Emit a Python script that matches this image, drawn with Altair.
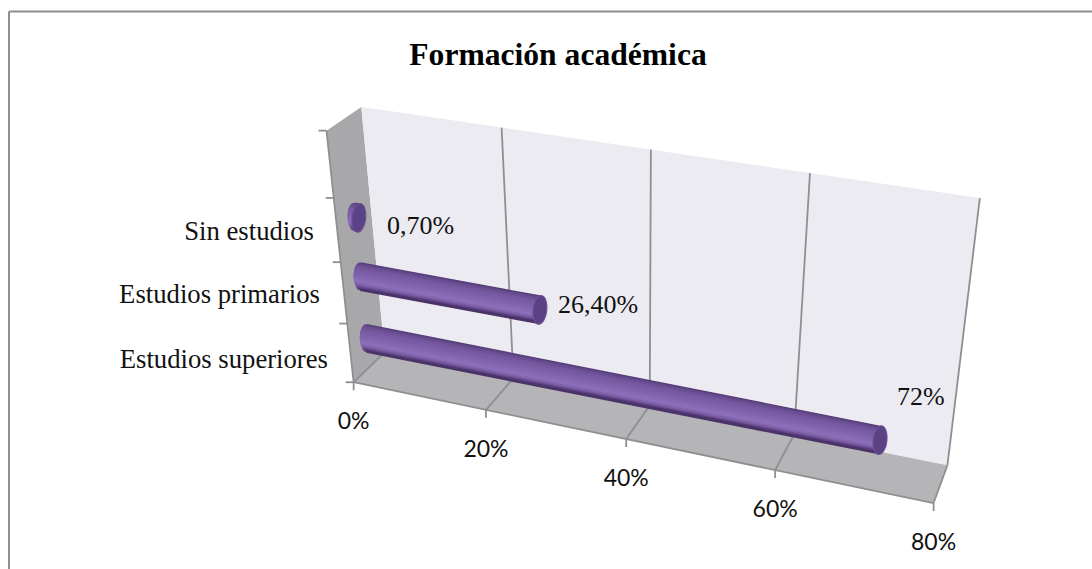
import altair as alt
import numpy as np
import pandas as pd

# Chart content
TITLE = "Formación académica"
categories = ["Estudios superiores", "Estudios primarios", "Sin estudios"]
shares = [72.0, 26.4, 0.7]
share_labels = ["72%", "26,40%", "0,70%"]
axis_ticks = [0, 20, 40, 60, 80]
axis_labels = ["0%", "20%", "40%", "60%", "80%"]

W, H = 1092, 569
SERIF = "Liberation Serif"
SANS = "Lato"

# Camera calibration: (value, depth, height) -> screen position of the box's edges
calibration = [
    (0, 0, 0, 353, 381), (20, 0, 0, 487, 408), (40, 0, 0, 627, 438), (60, 0, 0, 775, 472), (80, 0, 0, 934, 503),
    (0, 1, 0, 386, 353), (20, 1, 0, 511, 378), (40, 1, 0, 650, 408), (60, 1, 0, 793, 437), (80, 1, 0, 948, 462),
    (0, 1, 1, 362, 106), (20, 1, 1, 502, 127), (40, 1, 1, 652, 149), (60, 1, 1, 810, 172), (80, 1, 1, 979, 199),
    (0, 0, 1, 325, 133),
]


def fit_camera(rows):
    """Least-squares 3x4 projective camera."""
    A, b = [], []
    for v, d, h, u, w in rows:
        A.append([v, d, h, 1, 0, 0, 0, 0, -u * v, -u * d, -u * h])
        b.append(u)
        A.append([0, 0, 0, 0, v, d, h, 1, -w * v, -w * d, -w * h])
        b.append(w)
    sol = np.linalg.lstsq(np.array(A, float), np.array(b, float), rcond=None)[0]
    return np.append(sol, 1.0).reshape(3, 4)


CAM = fit_camera(calibration)


def project(v, d, h):
    p = CAM @ np.array([v, d, h, 1.0])
    return float(p[0] / p[2]), float(p[1] / p[2])


X = alt.X("x:Q", scale=alt.Scale(domain=[0, W], nice=False, zero=False), axis=None)
Y = alt.Y("y:Q", scale=alt.Scale(domain=[H, 0], nice=False, zero=False), axis=None)


def polygon(points, color):
    """Fill a convex polygon as an area between its upper and lower chains."""
    pts = np.array(points)
    xs = np.unique(pts[:, 0])
    n = len(pts)
    rows = []
    for x in xs:
        ys = []
        for i in range(n):
            (x0, y0), (x1, y1) = pts[i], pts[(i + 1) % n]
            if min(x0, x1) <= x <= max(x0, x1):
                if x0 == x1:
                    ys += [y0, y1]
                else:
                    ys.append(y0 + (y1 - y0) * (x - x0) / (x1 - x0))
        rows.append({"x": x, "y": min(ys), "y2": max(ys)})
    return alt.Chart(pd.DataFrame(rows)).mark_area(color=color, opacity=1).encode(x=X, y=Y, y2="y2:Q")


def segments(pairs, color, width):
    rows = [{"x": a[0], "y": a[1], "x2": b[0], "y2": b[1]} for a, b in pairs]
    return alt.Chart(pd.DataFrame(rows)).mark_rule(color=color, strokeWidth=width).encode(
        x=X, y=Y, x2="x2:Q", y2="y2:Q"
    )


def labels(rows, font, size, align="center", weight="normal", color="#111111"):
    return alt.Chart(pd.DataFrame(rows)).mark_text(
        font=font, fontSize=size, align=align, baseline="middle", fontWeight=weight, color=color
    ).encode(x=X, y=Y, text="t:N")


# Walls and floor
layers = [
    polygon([project(0, 0, 1), project(0, 1, 1), project(0, 1, 0), project(0, 0, 0)], "#a8a7aa"),
    polygon([project(0, 1, 1), project(80, 1, 1), project(80, 1, 0), project(0, 1, 0)], "#ecebf1"),
    polygon([project(0, 0, 0), project(0, 1, 0), project(80, 1, 0), project(80, 0, 0)], "#b5b4b6"),
]

# Chart border, open towards the right and bottom of the page
layers.append(segments([((9, 11.5), (W, 11.5)), ((9, 11.5), (9, H))], "#8e8e8e", 2))

# Gridlines on the back wall and the floor, then the box's outer edges and ticks
grid = []
for v in axis_ticks[1:]:
    grid.append((project(v, 1, 1), project(v, 1, 0)))
    grid.append((project(v, 1, 0), project(v, 0, 0)))
layers.append(segments(grid, "#8f8f92", 1.8))
edges = [
    (project(0, 0, 1), project(0, 0, 0)),
    (project(0, 0, 0), project(80, 0, 0)),
    (project(0, 0, 0), project(0, 1, 0)),
]
ticks = []
for v in axis_ticks:
    p = project(v, 0, 0)
    ticks.append((p, (p[0], p[1] + 8)))
for i in range(5):
    p = project(0, 0, i / 4)
    ticks.append((p, (p[0] - 8, p[1])))
layers.append(segments(edges + ticks, "#8f8f92", 1.8))

# Cylinders: overlapping strips shaded from the upper rim to the lower rim
shade_stops = [
    (-1.00, "#553b78"), (-0.85, "#654a8c"), (-0.55, "#7558a0"), (-0.15, "#7d60a9"),
    (0.25, "#8769b3"), (0.50, "#8e70ba"), (0.75, "#7c5fa6"), (0.92, "#5f4586"), (1.00, "#4b3369"),
]


def shade(t):
    rgb = np.array([[int(c[i:i + 2], 16) for i in (1, 3, 5)] for _, c in shade_stops])
    pos = [s for s, _ in shade_stops]
    return "#%02x%02x%02x" % tuple(int(round(np.interp(t, pos, rgb[:, k]))) for k in range(3))


RADIUS = 14.5
STRIP = 3.0
CAP = 6.5
band_heights = [0.125, 0.385, 0.625]
strips, caps = [], []
for value, band in zip(shares, band_heights):
    ax, ay = project(0, 0.5, band)
    bx, by = project(value, 0.5, band)
    slope = (by - ay) / (bx - ax)
    inner = RADIUS - STRIP / 2
    for t in np.linspace(-1, 1, 33):
        bulge = CAP * np.sqrt(max(0.0, 1 - t * t))
        strips.append({
            "x": ax - bulge, "y": ay + t * inner - bulge * slope,
            "x2": bx, "y2": by + t * inner, "shade": shade(t),
        })
    caps.append({"x": bx, "y": by})

layers.append(
    alt.Chart(pd.DataFrame(strips)).mark_rule(strokeWidth=STRIP).encode(
        x=X, y=Y, x2="x2:Q", y2="y2:Q", color=alt.Color("shade:N", scale=None)
    )
)
ELLIPSE = "M 0 -1 A 0.48 1 0 1 1 0 1 A 0.48 1 0 1 1 0 -1 Z"
layers.append(
    alt.Chart(pd.DataFrame(caps)).mark_point(
        shape=ELLIPSE, size=(2 * RADIUS) ** 2, filled=True, color="#5b4284",
        stroke="#6f5399", strokeWidth=1, opacity=1, angle=6,
    ).encode(x=X, y=Y)
)

# Text
layers.append(labels([{"x": 558, "y": 56, "t": TITLE}], SERIF, 31.6, weight="bold", color="#000000"))

category_rows = [
    {"x": 328, "y": 360, "t": categories[0]},
    {"x": 320, "y": 295, "t": categories[1]},
    {"x": 314, "y": 232, "t": categories[2]},
]
layers.append(labels(category_rows, SERIF, 26.7, align="right"))

share_rows = [
    {"x": 897, "y": 397, "t": share_labels[0]},
    {"x": 558, "y": 305, "t": share_labels[1]},
    {"x": 387, "y": 226, "t": share_labels[2]},
]
layers.append(labels(share_rows, SERIF, 26, align="left"))

tick_rows = []
for v, text in zip(axis_ticks, axis_labels):
    px, py = project(v, 0, 0)
    tick_rows.append({"x": px, "y": py + 40, "t": text})
layers.append(labels(tick_rows, SANS, 23))

chart = (
    alt.layer(*layers)
    .properties(width=W, height=H, padding=0, autosize=alt.AutoSizeParams(type="none"), background="white")
    .configure_view(stroke=None)
)
chart.save("out.html", embed_options={"renderer": "svg", "actions": False})
